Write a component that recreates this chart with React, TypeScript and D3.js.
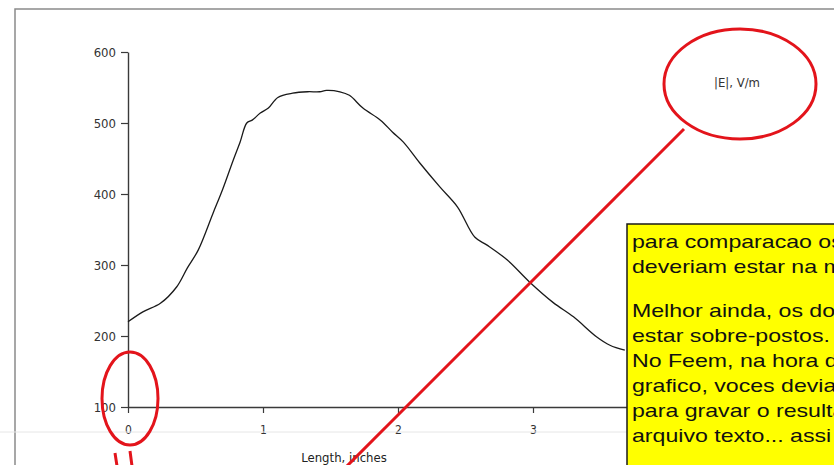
import { useEffect, useRef } from 'react';
import * as d3 from 'd3';

// |E| along the line
const lengthInches = [
  0, 0.11, 0.24, 0.36, 0.44, 0.52, 0.63, 0.7, 0.78, 0.83, 0.88, 0.92, 0.98, 1.04, 1.11, 1.22, 1.33,
  1.42, 1.47, 1.57, 1.64, 1.74, 1.87, 1.96, 2.04, 2.16, 2.31, 2.44, 2.57, 2.66, 2.81, 2.98, 3.15,
  3.3, 3.47, 3.57, 3.68,
];
const fieldValues = [
  220, 234, 246, 269, 296, 321, 373, 406, 448, 473, 500, 504, 514, 521, 536, 542, 544, 544, 546,
  544, 539, 521, 504, 487, 473, 444, 410, 382, 339, 328, 307, 275, 247, 227, 199, 187, 180,
];

const yTicks = [100, 200, 300, 400, 500, 600];
const xTicks = [0, 1, 2, 3];

// note text, cut at the right edge like in the screenshot
const noteLines = [
  'para comparacao os',
  'deveriam estar na m',
  '',
  'Melhor ainda, os do',
  'estar sobre-postos.',
  'No Feem, na hora d',
  'grafico, voces devia',
  'para gravar o resulta',
  'arquivo texto... assi',
];

const chartFont = '"DejaVu Sans", Verdana, sans-serif';

export default function App() {
  const ref = useRef<SVGSVGElement>(null);

  useEffect(() => {
    const svgElement = ref.current;
    if (!svgElement) {
      return;
    }
    const svg = d3.select(svgElement);
    svg.selectAll('*').remove();

    const width = 834;
    const height = 465;

    svg.append('rect').attr('width', width).attr('height', height).attr('fill', '#ffffff');

    // page frame of the pasted chart
    svg
      .append('path')
      .attr('d', `M15,${height} L15,9 L${width},9`)
      .attr('fill', 'none')
      .attr('stroke', '#8a8a8a')
      .attr('stroke-width', 1.5);

    const x = d3.scaleLinear().domain([0, 5]).range([128, 803]);
    const y = d3.scaleLinear().domain([100, 600]).range([407, 52]);

    const yAxis = svg
      .append('g')
      .attr('transform', 'translate(128,0)')
      .call(d3.axisLeft(y).tickValues(yTicks).tickSize(7).tickPadding(5).tickSizeOuter(0));
    yAxis.select('.domain').attr('stroke', '#3a3a3a').attr('stroke-width', 1.4);
    yAxis.selectAll('.tick line').attr('stroke', '#3a3a3a').attr('stroke-width', 1.2);
    yAxis
      .selectAll('.tick text')
      .attr('font-family', chartFont)
      .attr('font-stretch', 'condensed')
      .attr('font-size', 13)
      .attr('fill', '#333');

    const xAxis = svg
      .append('g')
      .attr('transform', 'translate(0,407)')
      .call(d3.axisBottom(x).tickValues(xTicks).tickFormat(d3.format('d')).tickSize(6).tickPadding(12).tickSizeOuter(0));
    xAxis.select('.domain').attr('stroke', '#3a3a3a').attr('stroke-width', 1.4);
    xAxis.selectAll('.tick line').attr('stroke', '#3a3a3a').attr('stroke-width', 1.2);
    xAxis
      .selectAll('.tick text')
      .attr('font-family', chartFont)
      .attr('font-stretch', 'condensed')
      .attr('font-size', 12)
      .attr('fill', '#333');

    svg
      .append('text')
      .attr('x', 344)
      .attr('y', 462)
      .attr('text-anchor', 'middle')
      .attr('font-family', chartFont)
      .attr('font-stretch', 'condensed')
      .attr('font-size', 13)
      .attr('fill', '#222')
      .text('Length, inches');

    const points = lengthInches.map((len, i) => [len, fieldValues[i]] as [number, number]);
    const line = d3
      .line<[number, number]>()
      .x((d) => x(d[0]))
      .y((d) => y(d[1]))
      .curve(d3.curveCatmullRom.alpha(0.5));

    svg
      .append('path')
      .datum(points)
      .attr('d', line)
      .attr('fill', 'none')
      .attr('stroke', '#1a1a1a')
      .attr('stroke-width', 1.3)
      .attr('stroke-linejoin', 'round');

    // faint scan seam
    svg
      .append('line')
      .attr('x1', 0)
      .attr('x2', width)
      .attr('y1', 432)
      .attr('y2', 432)
      .attr('stroke', '#e6e6e6')
      .attr('stroke-width', 1);

    // yellow note box
    svg
      .append('rect')
      .attr('x', 627)
      .attr('y', 224)
      .attr('width', 240)
      .attr('height', 260)
      .attr('fill', '#ffff00')
      .attr('stroke', '#1a1a1a')
      .attr('stroke-width', 1.5);

    const note = svg
      .append('g')
      .attr('transform', 'translate(632,0) scale(1.25,1)');
    let baseline = 248;
    noteLines.forEach((txt) => {
      if (txt === '') {
        baseline += 19;
        return;
      }
      note
        .append('text')
        .attr('x', 0)
        .attr('y', baseline)
        .attr('font-family', '"Liberation Sans", Arial, sans-serif')
        .attr('font-size', 18.5)
        .attr('fill', '#111')
        .text(txt);
      baseline += 25;
    });

    // red annotations
    const red = '#e3141b';
    svg
      .append('ellipse')
      .attr('cx', 740)
      .attr('cy', 84)
      .attr('rx', 76)
      .attr('ry', 55)
      .attr('fill', '#ffffff')
      .attr('stroke', red)
      .attr('stroke-width', 3);

    svg
      .append('text')
      .attr('x', 737)
      .attr('y', 87)
      .attr('text-anchor', 'middle')
      .attr('font-family', chartFont)
      .attr('font-stretch', 'condensed')
      .attr('font-size', 13)
      .attr('fill', '#333')
      .text('|E|, V/m');

    svg
      .append('line')
      .attr('x1', 684)
      .attr('y1', 129)
      .attr('x2', 345)
      .attr('y2', 468)
      .attr('stroke', red)
      .attr('stroke-width', 3);

    svg
      .append('ellipse')
      .attr('cx', 130)
      .attr('cy', 398.5)
      .attr('rx', 28)
      .attr('ry', 46.5)
      .attr('fill', 'none')
      .attr('stroke', red)
      .attr('stroke-width', 3);

    svg
      .append('path')
      .attr('d', 'M115,453 L117,466 M130,451 L132,466')
      .attr('fill', 'none')
      .attr('stroke', red)
      .attr('stroke-width', 3);
  }, []);

  return (
    <svg
      ref={ref}
      width={834}
      height={465}
      style={{ position: 'absolute', left: 0, top: 0, display: 'block' }}
    />
  );
}
